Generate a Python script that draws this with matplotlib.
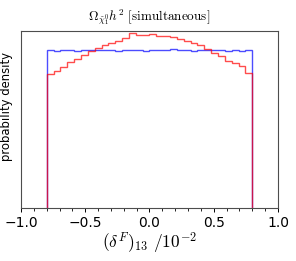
import numpy as np
import matplotlib
matplotlib.use('Agg')
import matplotlib.pyplot as plt
from matplotlib.ticker import MultipleLocator

plt.rcParams['mathtext.fontset'] = 'cm'

# histogram edges (30 bins between -0.8 and 0.8)
edges = np.linspace(-0.8, 0.8, 31)

# flat prior (blue)
blue = [0.625, 0.622, 0.624, 0.626, 0.623, 0.627, 0.625, 0.624, 0.626, 0.625,
        0.623, 0.624, 0.626, 0.625, 0.622, 0.627, 0.624, 0.626, 0.628, 0.625,
        0.627, 0.623, 0.625, 0.626, 0.627, 0.624, 0.623, 0.625, 0.622, 0.624]

# posterior (red)
red = [0.530, 0.541, 0.556, 0.577, 0.590, 0.606, 0.622, 0.633, 0.643, 0.654,
       0.662, 0.672, 0.691, 0.685, 0.685, 0.688, 0.680, 0.679, 0.675, 0.669,
       0.659, 0.652, 0.646, 0.630, 0.613, 0.600, 0.580, 0.573, 0.560, 0.534]

fig = plt.figure(figsize=(2.96, 2.61), dpi=100)
ax = fig.add_axes([0.071, 0.203, 0.868, 0.678])

ax.stairs(blue, edges, baseline=0, color='b', alpha=0.7, lw=1)
ax.stairs(red, edges, baseline=0, color='r', alpha=0.7, lw=1)

ax.set_xlim(-1.0, 1.0)
ax.set_ylim(0, 0.70)
ax.set_yticks([])
ax.xaxis.set_major_locator(MultipleLocator(0.5))
ax.xaxis.set_minor_locator(MultipleLocator(0.1))
ax.tick_params(axis='x', which='major', labelsize=10, length=3, width=0.7, pad=2.5)
ax.tick_params(axis='x', which='minor', length=2, width=0.6)
for s in ax.spines.values():
    s.set_color('0.3')
    s.set_linewidth(0.8)

ax.set_title(r'$\Omega_{\tilde{\chi}_1^0}h^2\ \mathrm{[simultaneous]}$', fontsize=9.5, pad=8)
ax.set_xlabel(r'$(\delta^F)_{13}\ /10^{-2}$', fontsize=12.5, labelpad=1)
ax.set_ylabel('probability density', fontsize=8.4)
ax.yaxis.set_label_coords(-0.031, 0.572)

fig.savefig('out.png', dpi=100)
